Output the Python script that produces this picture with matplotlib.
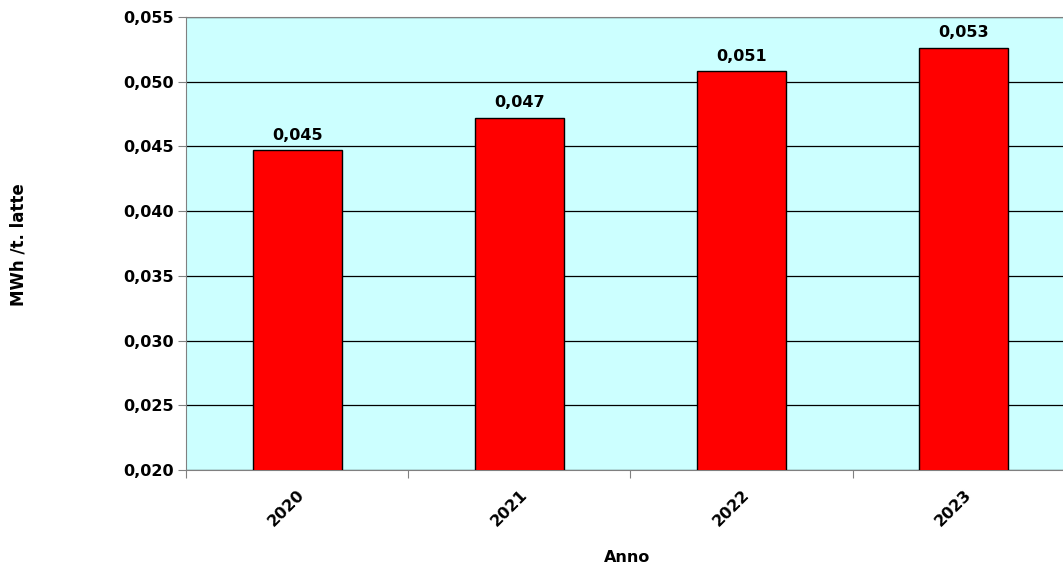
import matplotlib.pyplot as plt
from matplotlib.ticker import FuncFormatter, MultipleLocator

anni = ["2020", "2021", "2022", "2023"]
consumi = [0.0447, 0.0472, 0.0508, 0.0526]  # MWh per t di latte

plt.rcParams["font.family"] = "DejaVu Sans"
plt.rcParams["font.weight"] = "bold"

fig = plt.figure(figsize=(10.63, 5.67), dpi=100)
ax = fig.add_axes([0.175, 0.171, 0.836, 0.799])
ax.set_facecolor("#CCFFFF")

x = range(len(anni))
ax.bar(x, consumi, width=0.4, color="#FF0000", edgecolor="black", linewidth=1, zorder=3)

for xi, v in zip(x, consumi):
    ax.text(xi, v + 0.0006, f"{v:.3f}".replace(".", ","), ha="center", va="bottom",
            fontsize=11.5, fontweight="bold", zorder=4)

ax.set_xlim(-0.5, len(anni) - 0.5)
ax.set_ylim(0.020, 0.055)
ax.yaxis.set_major_locator(MultipleLocator(0.005))
ax.yaxis.set_major_formatter(FuncFormatter(lambda v, p: f"{v:.3f}".replace(".", ",")))
ax.grid(axis="y", color="black", linewidth=0.9, zorder=1)

# tick tra le categorie, etichette al centro delle barre
ax.set_xticks([i - 0.5 for i in range(len(anni) + 1)], minor=False)
ax.set_xticklabels([])
ax.set_xticks(list(x), minor=True)
ax.set_xticklabels(anni, minor=True, rotation=45, ha="right", rotation_mode="anchor",
                   fontsize=11.5, fontweight="bold")
ax.tick_params(axis="x", which="minor", length=0, pad=12)
ax.tick_params(axis="x", which="major", length=6, color="#808080", direction="out")
ax.tick_params(axis="y", length=6, color="#808080", labelsize=11.5, pad=3)
for lab in ax.get_yticklabels():
    lab.set_fontweight("bold")

for side in ["left", "bottom", "top"]:
    ax.spines[side].set_color("#808080")
ax.spines["right"].set_visible(False)

fig.text(0.59, 0.016, "Anno", ha="center", va="center", fontsize=11.5, fontweight="bold")
fig.text(0.017, 0.568, "MWh /t. latte", ha="center", va="center", rotation=90,
         fontsize=12, fontweight="bold")

fig.savefig("out.png", dpi=100)
